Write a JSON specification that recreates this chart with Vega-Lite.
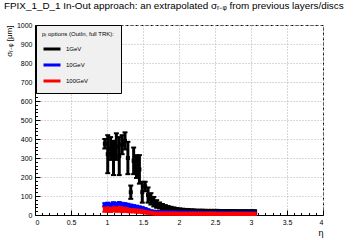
{
  "$schema": "https://vega.github.io/schema/vega-lite/v6.json",
  "autosize": "none",
  "width": 288,
  "height": 190,
  "padding": {"left": 35, "top": 25, "right": 37, "bottom": 25},
  "background": "white",
  "config": {
    "font": "Liberation Sans",
    "view": {"stroke": "black", "strokeDash": [3, 2], "strokeWidth": 1},
    "axis": {
      "grid": false,
      "domainColor": "black", "tickColor": "black", "labelColor": "black", "titleColor": "black",
      "labelFont": "Liberation Sans", "labelFontSize": 7, "titleFont": "Liberation Sans", "titleFontWeight": "normal",
      "gridColor": "#b0b0b0", "gridDash": [1, 2], "gridWidth": 1
    }
  },
  "title": {
    "text": "FPIX_1_D_1 In-Out approach: an extrapolated σᵣ₋ᵩ from previous layers/discs",
    "anchor": "start", "frame": "group", "dx": -31, "offset": 2, "baseline": "alphabetic",
    "fontSize": 9.9, "fontWeight": "normal", "font": "Liberation Sans", "color": "black"
  },
  "data": {"values": [
    {"s":"1GeV","eta":0.97,"v":375,"e":25},{"s":"1GeV","eta":1.01,"v":320,"e":100},{"s":"1GeV","eta":1.05,"v":350,"e":60},
    {"s":"1GeV","eta":1.09,"v":300,"e":90},{"s":"1GeV","eta":1.13,"v":360,"e":70},{"s":"1GeV","eta":1.17,"v":310,"e":100},
    {"s":"1GeV","eta":1.21,"v":370,"e":50},{"s":"1GeV","eta":1.25,"v":390,"e":45},{"s":"1GeV","eta":1.29,"v":300,"e":85},
    {"s":"1GeV","eta":1.33,"v":120,"e":35},{"s":"1GeV","eta":1.37,"v":285,"e":70},{"s":"1GeV","eta":1.41,"v":255,"e":60},
    {"s":"1GeV","eta":1.45,"v":240,"e":75},{"s":"1GeV","eta":1.49,"v":120,"e":55},{"s":"1GeV","eta":1.53,"v":150,"e":25},
    {"s":"1GeV","eta":1.57,"v":105,"e":40},{"s":"1GeV","eta":1.61,"v":85,"e":30},{"s":"1GeV","eta":1.65,"v":70,"e":25},
    {"s":"1GeV","eta":1.69,"v":58,"e":20},{"s":"1GeV","eta":1.73,"v":50,"e":16},{"s":"1GeV","eta":1.77,"v":44,"e":14},
    {"s":"1GeV","eta":1.81,"v":40,"e":12},{"s":"1GeV","eta":1.85,"v":36,"e":11},{"s":"1GeV","eta":1.89,"v":33,"e":10},
    {"s":"1GeV","eta":1.93,"v":30,"e":10},{"s":"1GeV","eta":1.97,"v":28,"e":9},{"s":"1GeV","eta":2.01,"v":26,"e":9},
    {"s":"1GeV","eta":2.05,"v":25,"e":8},{"s":"1GeV","eta":2.09,"v":24,"e":8},{"s":"1GeV","eta":2.13,"v":23,"e":8},
    {"s":"1GeV","eta":2.17,"v":22,"e":8},{"s":"1GeV","eta":2.21,"v":22,"e":7},{"s":"1GeV","eta":2.25,"v":21,"e":7},
    {"s":"1GeV","eta":2.29,"v":21,"e":7},{"s":"1GeV","eta":2.33,"v":21,"e":7},{"s":"1GeV","eta":2.37,"v":20,"e":7},
    {"s":"1GeV","eta":2.41,"v":20,"e":7},{"s":"1GeV","eta":2.45,"v":20,"e":7},{"s":"1GeV","eta":2.49,"v":20,"e":7},
    {"s":"1GeV","eta":2.53,"v":20,"e":7},{"s":"1GeV","eta":2.57,"v":19,"e":7},{"s":"1GeV","eta":2.61,"v":19,"e":7},
    {"s":"1GeV","eta":2.65,"v":19,"e":7},{"s":"1GeV","eta":2.69,"v":19,"e":7},{"s":"1GeV","eta":2.73,"v":19,"e":7},
    {"s":"1GeV","eta":2.77,"v":19,"e":7},{"s":"1GeV","eta":2.81,"v":18,"e":7},{"s":"1GeV","eta":2.85,"v":18,"e":7},
    {"s":"1GeV","eta":2.89,"v":18,"e":7},{"s":"1GeV","eta":2.93,"v":18,"e":7},{"s":"1GeV","eta":2.97,"v":18,"e":7},
    {"s":"1GeV","eta":3.01,"v":18,"e":7},{"s":"1GeV","eta":3.05,"v":18,"e":7},

    {"s":"10GeV","eta":0.97,"v":55,"e":7},{"s":"10GeV","eta":1.01,"v":58,"e":7},{"s":"10GeV","eta":1.05,"v":54,"e":7},
    {"s":"10GeV","eta":1.09,"v":60,"e":7},{"s":"10GeV","eta":1.13,"v":56,"e":7},{"s":"10GeV","eta":1.17,"v":61,"e":7},
    {"s":"10GeV","eta":1.21,"v":57,"e":7},{"s":"10GeV","eta":1.25,"v":55,"e":7},{"s":"10GeV","eta":1.29,"v":52,"e":7},
    {"s":"10GeV","eta":1.33,"v":48,"e":7},{"s":"10GeV","eta":1.37,"v":45,"e":7},{"s":"10GeV","eta":1.41,"v":42,"e":7},
    {"s":"10GeV","eta":1.45,"v":39,"e":6},{"s":"10GeV","eta":1.49,"v":35,"e":6},{"s":"10GeV","eta":1.53,"v":30,"e":6},
    {"s":"10GeV","eta":1.57,"v":24,"e":6},{"s":"10GeV","eta":1.61,"v":19,"e":5},{"s":"10GeV","eta":1.65,"v":17,"e":5},
    {"s":"10GeV","eta":1.69,"v":16,"e":5},{"s":"10GeV","eta":1.73,"v":15,"e":5},{"s":"10GeV","eta":1.77,"v":15,"e":5},
    {"s":"10GeV","eta":1.81,"v":15,"e":5},{"s":"10GeV","eta":1.85,"v":14,"e":5},{"s":"10GeV","eta":1.89,"v":14,"e":5},
    {"s":"10GeV","eta":1.93,"v":14,"e":5},{"s":"10GeV","eta":1.97,"v":14,"e":5},{"s":"10GeV","eta":2.01,"v":13,"e":5},
    {"s":"10GeV","eta":2.05,"v":13,"e":5},{"s":"10GeV","eta":2.09,"v":13,"e":5},{"s":"10GeV","eta":2.13,"v":12,"e":5},
    {"s":"10GeV","eta":2.17,"v":12,"e":5},{"s":"10GeV","eta":2.21,"v":12,"e":5},{"s":"10GeV","eta":2.25,"v":12,"e":5},
    {"s":"10GeV","eta":2.29,"v":12,"e":5},{"s":"10GeV","eta":2.33,"v":11,"e":5},{"s":"10GeV","eta":2.37,"v":11,"e":5},
    {"s":"10GeV","eta":2.41,"v":11,"e":5},{"s":"10GeV","eta":2.45,"v":11,"e":5},{"s":"10GeV","eta":2.49,"v":11,"e":5},
    {"s":"10GeV","eta":2.53,"v":11,"e":5},{"s":"10GeV","eta":2.57,"v":11,"e":5},{"s":"10GeV","eta":2.61,"v":11,"e":5},
    {"s":"10GeV","eta":2.65,"v":10,"e":5},{"s":"10GeV","eta":2.69,"v":10,"e":5},{"s":"10GeV","eta":2.73,"v":10,"e":5},
    {"s":"10GeV","eta":2.77,"v":10,"e":5},{"s":"10GeV","eta":2.81,"v":10,"e":5},{"s":"10GeV","eta":2.85,"v":10,"e":5},
    {"s":"10GeV","eta":2.89,"v":10,"e":5},{"s":"10GeV","eta":2.93,"v":10,"e":5},{"s":"10GeV","eta":2.97,"v":10,"e":5},
    {"s":"10GeV","eta":3.01,"v":10,"e":5},{"s":"10GeV","eta":3.05,"v":10,"e":5},

    {"s":"100GeV","eta":0.97,"v":30,"e":13},{"s":"100GeV","eta":1.01,"v":32,"e":13},{"s":"100GeV","eta":1.05,"v":29,"e":13},
    {"s":"100GeV","eta":1.09,"v":33,"e":13},{"s":"100GeV","eta":1.13,"v":30,"e":13},{"s":"100GeV","eta":1.17,"v":31,"e":13},
    {"s":"100GeV","eta":1.21,"v":28,"e":13},{"s":"100GeV","eta":1.25,"v":30,"e":13},{"s":"100GeV","eta":1.29,"v":27,"e":12},
    {"s":"100GeV","eta":1.33,"v":26,"e":12},{"s":"100GeV","eta":1.37,"v":25,"e":11},{"s":"100GeV","eta":1.41,"v":24,"e":11},
    {"s":"100GeV","eta":1.45,"v":22,"e":10},{"s":"100GeV","eta":1.49,"v":20,"e":10},{"s":"100GeV","eta":1.53,"v":17,"e":9},
    {"s":"100GeV","eta":1.57,"v":14,"e":8},{"s":"100GeV","eta":1.61,"v":11,"e":7},{"s":"100GeV","eta":1.65,"v":9,"e":6},
    {"s":"100GeV","eta":1.69,"v":8,"e":6},{"s":"100GeV","eta":1.73,"v":8,"e":6},{"s":"100GeV","eta":1.77,"v":8,"e":6},
    {"s":"100GeV","eta":1.81,"v":8,"e":6},{"s":"100GeV","eta":1.85,"v":8,"e":6},{"s":"100GeV","eta":1.89,"v":8,"e":6},
    {"s":"100GeV","eta":1.93,"v":8,"e":6},{"s":"100GeV","eta":1.97,"v":8,"e":6},{"s":"100GeV","eta":2.01,"v":7,"e":6},
    {"s":"100GeV","eta":2.05,"v":7,"e":6},{"s":"100GeV","eta":2.09,"v":7,"e":6},{"s":"100GeV","eta":2.13,"v":7,"e":6},
    {"s":"100GeV","eta":2.17,"v":7,"e":6},{"s":"100GeV","eta":2.21,"v":7,"e":6},{"s":"100GeV","eta":2.25,"v":7,"e":6},
    {"s":"100GeV","eta":2.29,"v":7,"e":6},{"s":"100GeV","eta":2.33,"v":7,"e":6},{"s":"100GeV","eta":2.37,"v":7,"e":6},
    {"s":"100GeV","eta":2.41,"v":7,"e":6},{"s":"100GeV","eta":2.45,"v":7,"e":6},{"s":"100GeV","eta":2.49,"v":7,"e":6},
    {"s":"100GeV","eta":2.53,"v":6,"e":6},{"s":"100GeV","eta":2.57,"v":6,"e":6},{"s":"100GeV","eta":2.61,"v":6,"e":6},
    {"s":"100GeV","eta":2.65,"v":6,"e":6},{"s":"100GeV","eta":2.69,"v":6,"e":6},{"s":"100GeV","eta":2.73,"v":6,"e":6},
    {"s":"100GeV","eta":2.77,"v":6,"e":6},{"s":"100GeV","eta":2.81,"v":6,"e":6},{"s":"100GeV","eta":2.85,"v":6,"e":6},
    {"s":"100GeV","eta":2.89,"v":6,"e":6},{"s":"100GeV","eta":2.93,"v":6,"e":6},{"s":"100GeV","eta":2.97,"v":6,"e":6},
    {"s":"100GeV","eta":3.01,"v":6,"e":6},{"s":"100GeV","eta":3.05,"v":6,"e":6}
  ]},
  "layer": [
    {
      "mark": {"type": "errorbar", "thickness": 3, "opacity": 1, "ticks": {"size": 5, "thickness": 2, "opacity": 1}},
      "encoding": {
        "x": {"field": "eta", "type": "quantitative", "scale": {"domain": [0, 4], "nice": false},
              "axis": {"values": [0, 0.5, 1, 1.5, 2, 2.5, 3, 3.5, 4], "format": ".1~f", "tickSize": -5, "labelPadding": 8, "grid": true,
                       "title": "η", "titleAnchor": "end", "titleAlign": "right", "titleFontSize": 9, "titlePadding": 3}},
        "y": {"field": "v", "type": "quantitative", "scale": {"domain": [0, 1000], "nice": false},
              "axis": {"values": [0, 100, 200, 300, 400, 500, 600, 700, 800, 900, 1000], "format": "d", "tickSize": -5, "labelPadding": 8, "grid": true,
                       "title": "σᵣ₋ᵩ [μm]", "titleAnchor": "end", "titleFontSize": 8, "titlePadding": 3}},
        "yError": {"field": "e"},
        "color": {"field": "s", "type": "nominal", "sort": ["1GeV", "10GeV", "100GeV"],
                  "scale": {"domain": ["1GeV", "10GeV", "100GeV"], "range": ["#000000", "#0000ff", "#ff0000"]},
                  "legend": {"title": "pₜ options (OutIn, full TRK):", "orient": "none", "legendX": 1, "legendY": 0,
                             "symbolType": "stroke", "symbolStrokeWidth": 3, "symbolSize": 289, "symbolOpacity": 1, "rowPadding": -3.5,
                             "titleFontSize": 6, "titleFontWeight": "normal", "titlePadding": 2, "labelFontSize": 6,
                             "labelOffset": 4, "padding": 6, "fillColor": "#f0f0f0", "strokeColor": "black",
                             "titleColor": "black", "labelColor": "black"}}
      }
    },
    {
      "mark": {"type": "square", "size": 16, "opacity": 1},
      "encoding": {
        "x": {"field": "eta", "type": "quantitative", "axis": null},
        "y": {"field": "v", "type": "quantitative", "axis": null},
        "color": {"field": "s", "type": "nominal"}
      }
    },
    {
      "mark": {"type": "point", "opacity": 0},
      "encoding": {
        "x": {"field": "eta", "type": "quantitative",
              "axis": {"orient": "bottom", "values": [0.1,0.2,0.3,0.4,0.6,0.7,0.8,0.9,1.1,1.2,1.3,1.4,1.6,1.7,1.8,1.9,2.1,2.2,2.3,2.4,2.6,2.7,2.8,2.9,3.1,3.2,3.3,3.4,3.6,3.7,3.8,3.9],
                       "tickSize": -2.5, "labels": false, "grid": false, "domain": false, "title": null}},
        "y": {"field": "v", "type": "quantitative",
              "axis": {"orient": "left", "values": [20,40,60,80,120,140,160,180,220,240,260,280,320,340,360,380,420,440,460,480,520,540,560,580,620,640,660,680,720,740,760,780,820,840,860,880,920,940,960,980],
                       "tickSize": -2.5, "labels": false, "grid": false, "domain": false, "title": null}}
      }
    }
  ],
  "resolve": {"axis": {"x": "independent", "y": "independent"}}
}
